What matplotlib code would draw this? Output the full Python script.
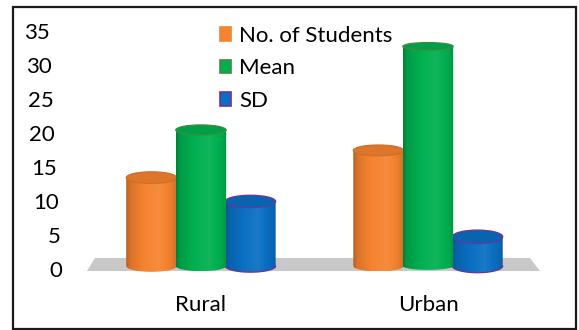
import numpy as np
import matplotlib
matplotlib.use('Agg')
import matplotlib.pyplot as plt
from matplotlib.patches import Ellipse, Polygon, Rectangle, Patch
from matplotlib.colors import to_rgb

# data
categories = ['Rural', 'Urban']
series = ['No. of Students', 'Mean', 'SD']
students = [13, 17]
mean = [20, 32.3]
sd = [9.5, 4.3]
yticks = [0, 5, 10, 15, 20, 25, 30, 35]

colors = ['#F5832F', '#00B050', '#0A6FC2']
edges = [None, '#3F8F3A', '#7030A0']

plt.rcParams['font.family'] = ['Lato', 'DejaVu Sans']
FS = 16

fig = plt.figure(figsize=(5.79, 3.30), dpi=100)
ax = fig.add_axes([0, 0, 1, 1])

# horizontal shading profile of a cylinder (dark edges, light middle)
prof_t = [0, 0.08, 0.35, 0.65, 0.9, 1.0]
prof_f = [0.72, 0.88, 1.0, 1.07, 0.95, 0.84]


def shade(c, f):
    c = np.array(to_rgb(c))
    if f <= 1:
        return c * f
    return c + (1 - c) * (f - 1)


def cylinder(ax, xc, v, w, color, edge, z):
    eh = 2.1 - 0.03 * v          # top gets flatter the higher it sits
    th = np.linspace(np.pi, 2 * np.pi, 80)
    bx = xc + w / 2 * np.cos(th)
    by = eh / 2 * np.sin(th)
    verts = np.vstack([np.column_stack([bx, by]),
                       [[xc + w / 2, v], [xc - w / 2, v]]])
    body = Polygon(verts, closed=True, facecolor='none', edgecolor='none')
    ax.add_patch(body)
    t = np.linspace(0, 1, 200)
    f = np.interp(t, prof_t, prof_f)
    img = np.array([shade(color, fi) for fi in f])[None, :, :]
    im = ax.imshow(img, extent=[xc - w / 2, xc + w / 2, -eh / 2, v],
                   aspect='auto', interpolation='bilinear', zorder=z)
    im.set_clip_path(body)
    if edge == '#7030A0':
        ax.plot(bx, by, color=edge, lw=0.9, zorder=z + 0.1)
    ec = edge if edge else shade(color, 0.85)
    ax.add_patch(Ellipse((xc, v), w, eh, facecolor=shade(color, 0.9),
                         edgecolor=ec, lw=0.9, zorder=z + 0.2))


# grey floor
floor = Polygon([[-0.467, 1.18], [1.449, 1.18], [1.493, -0.74], [-0.502, -0.74]],
                closed=True, facecolor='#C8C8C8', edgecolor='none', zorder=1)
ax.add_patch(floor)

w = 0.222
offsets = [-0.218, 0.0, 0.218]
vals = [students, mean, sd]
for i in range(len(categories)):
    # draw orange, blue, then green so green sits in front
    for k, z in zip([0, 2, 1], [3, 4, 5]):
        cylinder(ax, i + offsets[k], vals[k][i], w, colors[k], edges[k], z)

# slanted value labels (3D back wall)
for v in yticks:
    x = -0.665 + 0.053 * (1 - v / 35)
    ax.text(x, v - 0.7, str(v), ha='right', va='center', fontsize=FS, color='black')

for i, c in enumerate(categories):
    ax.text(i, -5.8, c, ha='center', va='center', fontsize=FS, color='black')

handles = [Patch(facecolor=colors[k], edgecolor=edges[k] if edges[k] else colors[k],
                 lw=1.2, label=series[k]) for k in range(3)]
ax.legend(handles=handles, loc='upper left', bbox_to_anchor=(220 / 579, 1 - 26 / 330),
          frameon=False, fontsize=FS, borderpad=0, borderaxespad=0,
          handlelength=0.5, handleheight=0.55, handletextpad=0.35, labelspacing=0.56)

ax.set_xlim(-0.885, 1.665)
ax.set_ylim(-9.41, 39.12)
ax.axis('off')

# outer frame
fig.patches.append(Rectangle((13 / 579, 1 - 329 / 330), 563 / 579, 322 / 330,
                             transform=fig.transFigure, fill=False,
                             edgecolor='#1a1a1a', lw=1.6))

fig.savefig('out.png', dpi=100)
